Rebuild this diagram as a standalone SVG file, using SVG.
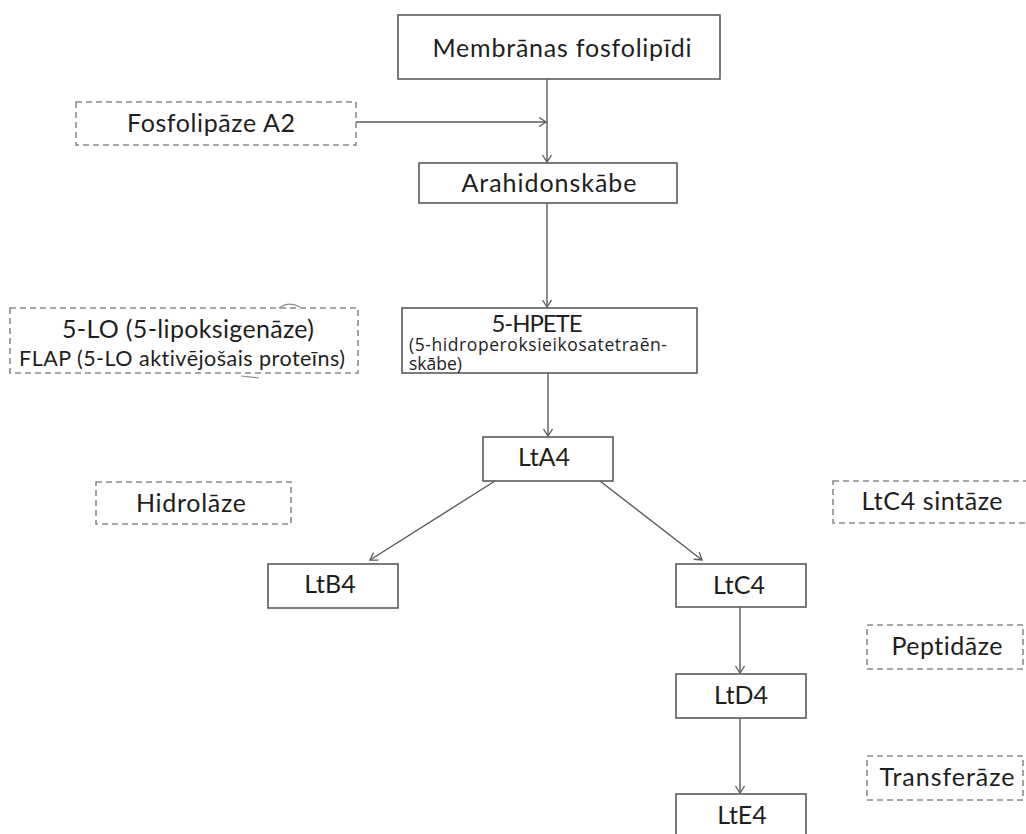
<svg xmlns="http://www.w3.org/2000/svg" width="1026" height="834" viewBox="0 0 1026 834">
<defs>
<style>
.box{fill:#fff;stroke:#5a5a5a;stroke-width:1.6}
.dbox{fill:#fff;stroke:#8a8a8a;stroke-width:1.6;stroke-dasharray:6 4}
.t{font-family:Lato,"Liberation Sans",sans-serif;font-size:25px;fill:#1e1e1e;text-anchor:middle;font-variant-ligatures:none}
.s{font-family:"Open Sans","Liberation Sans",sans-serif;font-size:17.5px;fill:#1e1e1e}
.c{fill:none;stroke:#5a5a5a;stroke-width:1.4}
.art{fill:none;stroke:#8a8a8a;stroke-width:1.2}
</style>
<marker id="ah" markerUnits="userSpaceOnUse" markerWidth="12" markerHeight="12" refX="8" refY="5" orient="auto">
<path d="M1,0.5 L8,5 L1,9.5" fill="none" stroke="#5a5a5a" stroke-width="1.3"/>
</marker>
</defs>
<rect width="1026" height="834" fill="#fff"/>

<g id="connectors">
<line class="c" x1="547" y1="79" x2="547" y2="162" marker-end="url(#ah)"/>
<line class="c" x1="356" y1="122" x2="546" y2="122" marker-end="url(#ah)"/>
<line class="c" x1="547" y1="203" x2="547" y2="307" marker-end="url(#ah)"/>
<line class="c" x1="548" y1="373" x2="548" y2="436" marker-end="url(#ah)"/>
<line class="c" x1="495" y1="481" x2="370" y2="560" marker-end="url(#ah)"/>
<line class="c" x1="600" y1="481" x2="702" y2="560" marker-end="url(#ah)"/>
<line class="c" x1="740" y1="607" x2="740" y2="673" marker-end="url(#ah)"/>
<line class="c" x1="740" y1="718" x2="740" y2="793" marker-end="url(#ah)"/>
</g>

<g id="membranas">
<rect class="box" x="398" y="15" width="322" height="64"/>
<text class="t" x="562" y="57" textLength="259">Membrānas fosfolipīdi</text>
</g>

<g id="fosfolipaze">
<rect class="dbox" x="76" y="102" width="280" height="43"/>
<text class="t" x="211" y="132" textLength="168">Fosfolipāze A2</text>
</g>

<g id="arahidonskabe">
<rect class="box" x="419" y="163" width="258" height="40"/>
<text class="t" x="549" y="192" textLength="175">Arahidonskābe</text>
</g>

<g id="lipoksigenaze">
<rect class="dbox" x="10" y="308" width="348" height="65"/>
<text class="t" x="188" y="338" textLength="252">5-LO (5-lipoksigenāze)</text>
<text class="t" x="182" y="366" style="font-size:21.5px" textLength="326">FLAP (5-LO aktivējošais proteīns)</text>
<path class="art" d="M279,308 Q289,301 300,307"/>
<path class="art" d="M241,376 L259,378"/>
</g>

<g id="hpete">
<rect class="box" x="402" y="308" width="295" height="65"/>
<text class="t" x="537" y="332" style="font-size:24px" textLength="91">5-HPETE</text>
<text class="s" x="409" y="351" textLength="258">(5-hidroperoksieikosatetraēn-</text>
<text class="s" x="409" y="370">skābe)</text>
</g>

<g id="lta4">
<rect class="box" x="483" y="437" width="130" height="44"/>
<text class="t" x="544" y="466">LtA4</text>
</g>

<g id="hidrolaze">
<rect class="dbox" x="96" y="482" width="195" height="42"/>
<text class="t" x="191" y="512" textLength="110">Hidrolāze</text>
</g>

<g id="ltc4sintaze">
<rect class="dbox" x="833" y="481" width="200" height="42"/>
<text class="t" x="932" y="510" textLength="141">LtC4 sintāze</text>
</g>

<g id="ltb4">
<rect class="box" x="268" y="564" width="130" height="44"/>
<text class="t" x="330" y="593">LtB4</text>
</g>

<g id="ltc4">
<rect class="box" x="676" y="564" width="130" height="43"/>
<text class="t" x="739" y="594">LtC4</text>
</g>

<g id="peptidaze">
<rect class="dbox" x="867" y="625" width="156" height="44"/>
<text class="t" x="947" y="655" textLength="111">Peptidāze</text>
</g>

<g id="ltd4">
<rect class="box" x="676" y="674" width="130" height="44"/>
<text class="t" x="741" y="704">LtD4</text>
</g>

<g id="transferaze">
<rect class="dbox" x="867" y="756" width="156" height="44"/>
<text class="t" x="947" y="786" textLength="135">Transferāze</text>
</g>

<g id="lte4">
<rect class="box" x="676" y="794" width="130" height="50"/>
<text class="t" x="742" y="824">LtE4</text>
</g>
</svg>
